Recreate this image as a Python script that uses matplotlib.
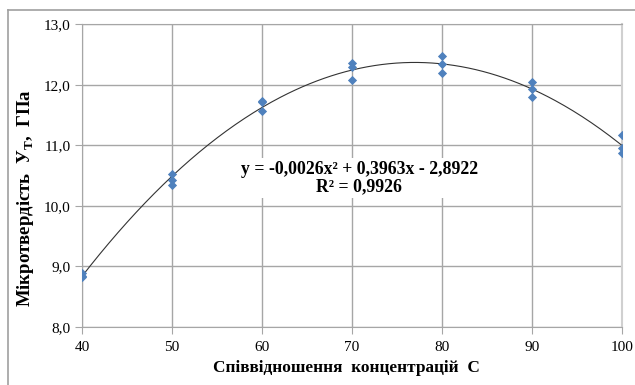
import numpy as np
import matplotlib
matplotlib.use("Agg")
import matplotlib.pyplot as plt
from matplotlib.lines import Line2D

plt.rcParams['font.family'] = ['Liberation Serif', 'DejaVu Serif']
plt.rcParams['mathtext.fontset'] = 'custom'
plt.rcParams['mathtext.rm'] = 'Liberation Serif'
plt.rcParams['mathtext.bf'] = 'Liberation Serif:bold'

# measured points (3 per concentration)
conc = [40, 40, 40, 50, 50, 50, 60, 60, 60, 70, 70, 70,
        80, 80, 80, 90, 90, 90, 100, 100, 100]
hardness = [8.90, 8.85, 8.82, 10.53, 10.42, 10.35, 11.74, 11.71, 11.57,
            12.36, 12.29, 12.08, 12.48, 12.35, 12.19, 12.04, 11.93, 11.80,
            11.17, 10.96, 10.88]

x_ticks = [40, 50, 60, 70, 80, 90, 100]
y_ticks = [8.0, 9.0, 10.0, 11.0, 12.0, 13.0]
eq_text = "y = -0,0026x² + 0,3963x - 2,8922\nR² = 0,9926"

fig = plt.figure(figsize=(6.35, 3.85), dpi=100)
ax = fig.add_axes([82/635, 1 - 327/385, 540/635, 302.7/385])

# outer chart frame (only left/top visible in the crop)
fig.add_artist(Line2D([8/635, 8/635], [0, 1 - 10/385], transform=fig.transFigure,
                      color='#a0a0a0', lw=1.2))
fig.add_artist(Line2D([8/635, 1], [1 - 10/385, 1 - 10/385], transform=fig.transFigure,
                      color='#a0a0a0', lw=1.2))

# trend line
coef = np.polyfit(conc, hardness, 2)
xs = np.linspace(40, 100, 300)
ax.plot(xs, np.polyval(coef, xs), color='#333333', lw=0.8, zorder=3)

ax.scatter(conc, hardness, marker='D', s=22, color='#4f81bd', zorder=4, linewidths=0)

ax.set_xlim(40, 100)
ax.set_ylim(8, 13)
ax.set_xticks(x_ticks)
ax.set_yticks(y_ticks)
ax.set_yticklabels([f"{v:.1f}".replace('.', ',') for v in y_ticks])
ax.grid(True, color='#a6a6a6', lw=1)
ax.set_axisbelow(True)
for s in ax.spines.values():
    s.set_color('#a6a6a6')
ax.spines['right'].set_color('#d0d0d0')
ax.spines['right'].set_linewidth(1.5)
ax.tick_params(axis='both', colors='#a6a6a6', labelcolor='black', labelsize=11,
               length=5, pad=3)
ax.tick_params(axis='x', pad=5)

ax.text(70.8, 10.46, eq_text, ha='center', va='center', multialignment='center',
        fontsize=12.8, fontweight='bold', zorder=5, linespacing=1.05,
        bbox=dict(facecolor='white', edgecolor='none', pad=2))

fig.text(346/635, 1 - 368/385, "Співвідношення  концентрацій  С", ha='center', va='center',
         fontsize=12.4, fontweight='bold')
fig.text(26/635, 1 - 198/385, r"Мікротвердість  У$_{\mathbf{Т}}$,  ГПа", ha='center',
         va='center', rotation=90, fontsize=13.5, fontweight='bold')

fig.savefig("out.png", dpi=100)
